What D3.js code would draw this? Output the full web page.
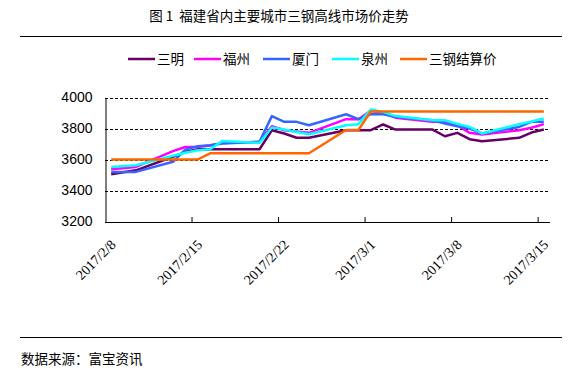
<!DOCTYPE html>
<html>
<head>
<meta charset="utf-8">
<script src="https://cdn.jsdelivr.net/npm/d3@7"></script>
<style>
  body { margin: 0; background: #fff; }
  svg { display: block; }
</style>
</head>
<body>
<svg id="svg"></svg>
<script>
// dates with data (weekdays)
var dates = ["2017-02-08","2017-02-10","2017-02-13","2017-02-14","2017-02-15","2017-02-16","2017-02-17",
  "2017-02-20","2017-02-21","2017-02-22","2017-02-23","2017-02-24","2017-02-27","2017-02-28",
  "2017-03-01","2017-03-02","2017-03-03","2017-03-06","2017-03-07","2017-03-08","2017-03-09",
  "2017-03-10","2017-03-13","2017-03-14","2017-03-15"];

var sanming = [3505,3530,3618,3648,3666,3666,3666,3666,3789,3768,3740,3740,3789,3789,
  3789,3826,3793,3793,3750,3772,3731,3718,3740,3774,3793];
var fuzhou = [3537,3552,3654,3681,3681,3690,3707,3714,3815,3789,3780,3772,3860,3860,
  3915,3900,3870,3843,3843,3821,3772,3761,3789,3805,3828];
var xiamen = [3520,3520,3585,3664,3686,3692,3703,3714,3880,3843,3843,3821,3892,3860,
  3892,3892,3875,3853,3832,3815,3800,3768,3810,3843,3843];
var quanzhou = [3552,3563,3624,3644,3660,3666,3720,3707,3806,3793,3778,3763,3821,3828,
  3923,3907,3880,3853,3853,3830,3810,3768,3828,3845,3864];
var sangang = [3600,3600,3600,3600,3600,3640,3640,3640,3640,3640,3640,3640,3790,3790,
  3910,3910,3910,3910,3910,3910,3910,3910,3910,3910,3910];

var seriesNames = ["三明","福州","厦门","泉州","三钢结算价"];
var seriesColors = ["#660066","#ff00ff","#3366ff","#00ffff","#ff6600"];
var seriesValues = [sanming, fuzhou, xiamen, quanzhou, sangang];

var yTicks = [3200,3400,3600,3800,4000];
var xTickLabels = ["2017/2/8","2017/2/15","2017/2/22","2017/3/1","2017/3/8","2017/3/15"];

const w = 583;
const h = 375;

const svg = d3.select("#svg")
  .attr("width", w)
  .attr("height", h);

const parse = d3.timeParse("%Y-%m-%d");
const parseLabel = d3.timeParse("%Y/%m/%d");
const cjk = "'Noto Sans CJK SC', 'Noto Sans', sans-serif";

// title + rules
svg.append("text")
  .attr("x", 279).attr("y", 21)
  .attr("text-anchor", "middle")
  .attr("font-family", cjk)
  .attr("font-size", 13.5)
  .text("图\u00a01\u00a0\u00a0福建省内主要城市三钢高线市场价走势");

svg.append("line").attr("x1", 20).attr("x2", 562).attr("y1", 36.5).attr("y2", 36.5)
  .attr("stroke", "#000").attr("stroke-width", 1);
svg.append("line").attr("x1", 20).attr("x2", 562).attr("y1", 337.5).attr("y2", 337.5)
  .attr("stroke", "#000").attr("stroke-width", 1);

svg.append("text")
  .attr("x", 21).attr("y", 364)
  .attr("font-family", cjk)
  .attr("font-size", 13.5)
  .text("数据来源：富宝资讯");

// scales
const x = d3.scaleTime()
  .domain([parse("2017-02-08"), parse("2017-03-16")])
  .range([105, 550]);
const y = d3.scaleLinear()
  .domain([3200, 4000])
  .range([221.5, 97.5]);

const mid = d => d3.timeHour.offset(parse(d), 12);

// grid
svg.append("g")
  .selectAll("line")
  .data(yTicks.filter(t => t > 3200))
  .enter()
  .append("line")
  .attr("x1", 105).attr("x2", 548)
  .attr("y1", d => Math.round(y(d)) + 0.5)
  .attr("y2", d => Math.round(y(d)) + 0.5)
  .attr("stroke", "#000")
  .attr("stroke-dasharray", "3,2");

// y axis
const yAxis = d3.axisLeft(y).tickValues(yTicks).tickSize(0).tickPadding(13).tickFormat(d3.format("d"));
const gy = svg.append("g").attr("transform", "translate(105.5,0)").call(yAxis);
gy.select(".domain").attr("stroke", "#000");
gy.selectAll("text")
  .attr("font-family", "'Liberation Sans', Arial, sans-serif")
  .attr("font-size", 14)
  .attr("fill", "#000");

// x axis (weekly ticks pointing inward)
const weekTicks = xTickLabels.slice(1).map(parseLabel);
const xAxis = d3.axisBottom(x).tickValues(weekTicks).tickSize(-5).tickFormat("");
const gx = svg.append("g").attr("transform", "translate(0,222)").call(xAxis);
gx.select(".domain").attr("stroke", "#000").attr("d", "M105,0.5H550");
gx.selectAll(".tick line").attr("stroke", "#000");

svg.append("g")
  .selectAll("text")
  .data(xTickLabels)
  .enter()
  .append("text")
  .attr("transform", d => "translate(" + (x(d3.timeHour.offset(parseLabel(d), 12)) + 2) + ",242) rotate(-45)")
  .attr("text-anchor", "end")
  .attr("font-family", "'Liberation Serif', 'Times New Roman', serif")
  .attr("font-size", 14)
  .attr("dy", "0.35em")
  .text(d => d);

// lines
const line = d3.line()
  .x((d, i) => x(mid(dates[i])))
  .y(d => y(d));

svg.append("g")
  .selectAll("path")
  .data(seriesValues)
  .enter()
  .append("path")
  .attr("d", d => line(d))
  .attr("fill", "none")
  .attr("stroke", (d, i) => seriesColors[i])
  .attr("stroke-width", 2.5)
  .attr("stroke-linejoin", "round");

// legend
const legendX = [128, 194, 263, 332, 400];
const lg = svg.append("g")
  .selectAll("g")
  .data(seriesNames)
  .enter()
  .append("g")
  .attr("transform", (d, i) => "translate(" + legendX[i] + ",59)");
lg.append("line")
  .attr("x1", 0).attr("x2", 27).attr("y1", 0).attr("y2", 0)
  .attr("stroke", (d, i) => seriesColors[i])
  .attr("stroke-width", 2.5);
lg.append("text")
  .attr("x", 29).attr("y", 0).attr("dy", "0.36em")
  .attr("font-family", cjk)
  .attr("font-size", 13.5)
  .text(d => d);
</script>
</body>
</html>
